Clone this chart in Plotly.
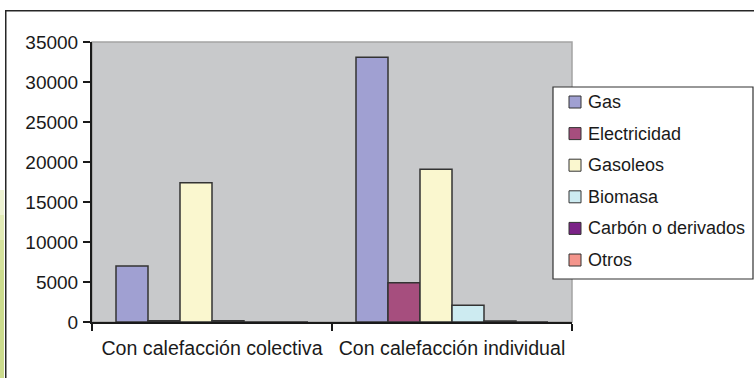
import plotly.graph_objects as go

# Households by heating type and fuel used
categories = ["Con calefacción colectiva", "Con calefacción individual"]
series_names = ["Gas", "Electricidad", "Gasoleos", "Biomasa", "Carbón o derivados", "Otros"]
gas = [7000, 33100]
electricidad = [150, 4900]
gasoleos = [17400, 19100]
biomasa = [150, 2100]
carbon = [0, 120]
otros = [0, 0]
series_values = [gas, electricidad, gasoleos, biomasa, carbon, otros]
colors = ["#A0A0D2", "#A64E7E", "#FAF7CF", "#CDEBF1", "#7B2287", "#F4958C"]
y_ticks = [0, 5000, 10000, 15000, 20000, 25000, 30000, 35000]

W, H = 754, 378
L, R, T, B = 92, 182, 42, 56
PW, PH = W - L - R, H - T - B


def px_x(x):
    return (x - L) / PW


def px_y(y):
    return (H - B - y) / PH


FONT = "Liberation Sans, Arial, sans-serif"

fig = go.Figure()
for name, vals, col in zip(series_names, series_values, colors):
    fig.add_trace(go.Bar(
        x=categories, y=vals, name=name,
        marker=dict(color=col, line=dict(color="#333333", width=1.5)),
        showlegend=False,
    ))

shapes = []
# green strip at the left edge, fading upwards
for y0, c in [(190, "#EDF2D2"), (215, "#E2EBB6"), (240, "#D5E29C"), (270, "#CBDB8C")]:
    shapes.append(dict(type="rect", xref="paper", yref="paper",
                       x0=px_x(0), x1=px_x(4), y0=px_y(y0), y1=px_y(H),
                       line=dict(width=0), fillcolor=c, layer="above"))
# plot area border
shapes.append(dict(type="rect", xref="paper", yref="paper",
                   x0=0, x1=1, y0=0, y1=1,
                   line=dict(color="#A4A4A4", width=1.5), fillcolor="rgba(0,0,0,0)",
                   layer="below"))

# legend box
lx0, lx1, ly0, ly1 = 553, 753, 87, 279
shapes.append(dict(type="rect", xref="paper", yref="paper",
                   x0=px_x(lx0), x1=px_x(lx1), y0=px_y(ly1), y1=px_y(ly0),
                   line=dict(color="#333333", width=1.2), fillcolor="white"))
annotations = []
for i, (name, col) in enumerate(zip(series_names, colors)):
    cy = 102 + i * 31.6
    shapes.append(dict(type="rect", xref="paper", yref="paper",
                       x0=px_x(569), x1=px_x(581), y0=px_y(cy + 6), y1=px_y(cy - 6),
                       line=dict(color="#333333", width=1), fillcolor=col))
    annotations.append(dict(xref="paper", yref="paper", x=px_x(586), y=px_y(cy),
                            text=name, showarrow=False, xanchor="left", yanchor="middle",
                            font=dict(family=FONT, size=18, color="#1a1a1a")))

# outer chart frame, drawn as an empty bordered annotation box
annotations.append(dict(xref="paper", yref="paper", x=px_x(4.5), y=px_y(9.5),
                        xanchor="left", yanchor="top", text=" ", showarrow=False,
                        width=790, height=400, borderpad=0, borderwidth=1.5,
                        bordercolor="#262626", bgcolor="rgba(0,0,0,0)",
                        font=dict(size=2)))

fig.update_layout(
    width=W, height=H,
    margin=dict(l=L, r=R, t=T, b=B, pad=0, autoexpand=False),
    paper_bgcolor="white",
    plot_bgcolor="#C8C9CB",
    barmode="group", bargap=0.2, bargroupgap=0,
    showlegend=False,
    shapes=shapes,
    annotations=annotations,
    font=dict(family=FONT, color="#1a1a1a"),
)
fig.update_xaxes(
    type="category", tickson="boundaries", ticks="outside", ticklen=7,
    tickwidth=2, tickcolor="#1a1a1a",
    showline=True, linecolor="#1a1a1a", linewidth=2,
    showgrid=False, tickfont=dict(size=19.6, family=FONT),
    ticklabelstandoff=7, tickangle=0, automargin=False,
)
fig.update_yaxes(
    range=[0, 35000], tickvals=y_ticks, ticktext=[str(v) for v in y_ticks],
    ticks="outside", ticklen=7, tickwidth=2, tickcolor="#1a1a1a",
    showline=True, linecolor="#1a1a1a", linewidth=2,
    showgrid=False, zeroline=False, tickfont=dict(size=19, family=FONT),
    ticklabelstandoff=1, automargin=False,
)

fig.write_html("out.html")
